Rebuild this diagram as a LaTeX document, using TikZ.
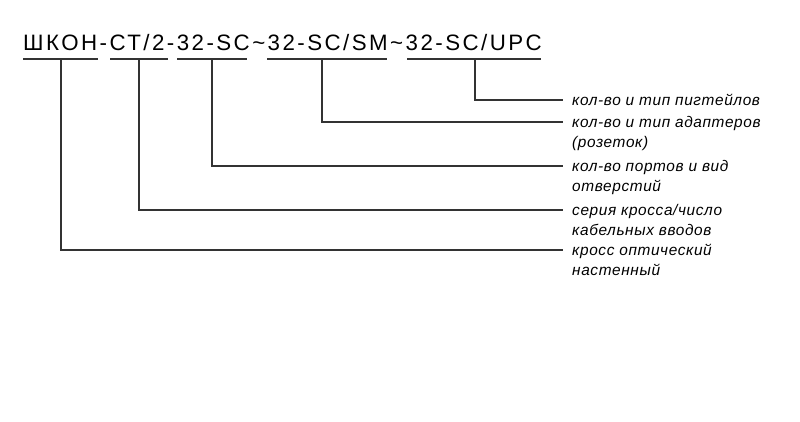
\documentclass[tikz,border=0pt]{standalone}
\usepackage{fontspec}
\setmainfont{Liberation Sans}
\newfontfamily\codefont[LetterSpace=11]{Liberation Sans}
\newfontfamily\notefont[LetterSpace=4]{Liberation Sans}
\begin{document}
\begin{tikzpicture}[x=1pt,y=-1pt,
		note/.style={anchor=base west,inner sep=0pt,align=left,xshift=9pt,yshift=-5.5pt,
			font=\notefont\itshape\fontsize{15.4}{20}\selectfont},
		lead/.style={line width=1.2pt,black!80}]
		\useasboundingbox (0,0) rectangle (800,421);

		\node[anchor=base west,inner sep=0pt,font=\codefont\fontsize{22.3}{26}\selectfont] (code) at (23,50)
			{ШКОН-СТ/2-32-SC\string~32-SC/SM\string~32-SC/UPC};

		% points where the leaders meet the texts
		\coordinate (pig-in) at (563,100);
		\coordinate (adapt-in) at (563,122);
		\coordinate (ports-in) at (563,166);
		\coordinate (series-in) at (563,210);
		\coordinate (cross-in) at (563,250);

		\node[note] (pig) at (pig-in) {кол-во и тип пигтейлов};
		\node[note,yshift=-20pt] (adapt) at (adapt-in) {кол-во и тип адаптеров\\(розеток)};
		\node[note,yshift=-20pt] (ports) at (ports-in) {кол-во портов и вид\\отверстий};
		\node[note,yshift=-20pt] (series) at (series-in) {серия кросса/число\\кабельных вводов};
		\node[note,yshift=-20pt] (cross) at (cross-in) {кросс оптический\\настенный};

		% underlines
		\draw[lead] (23,59) -- (98,59);
		\draw[lead] (110,59) -- (168,59);
		\draw[lead] (177,59) -- (247,59);
		\draw[lead] (267,59) -- (387,59);
		\draw[lead] (407,59) -- (541,59);

		\coordinate (kind) at (61,59);
		\coordinate (serie) at (139,59);
		\coordinate (port) at (212,59);
		\coordinate (adapter) at (322,59);
		\coordinate (pigtail) at (475,59);

		\draw[lead] (kind) |- (cross-in);
		\draw[lead] (serie) |- (series-in);
		\draw[lead] (port) |- (ports-in);
		\draw[lead] (adapter) |- (adapt-in);
		\draw[lead] (pigtail) |- (pig-in);
	\end{tikzpicture}
\end{document}
